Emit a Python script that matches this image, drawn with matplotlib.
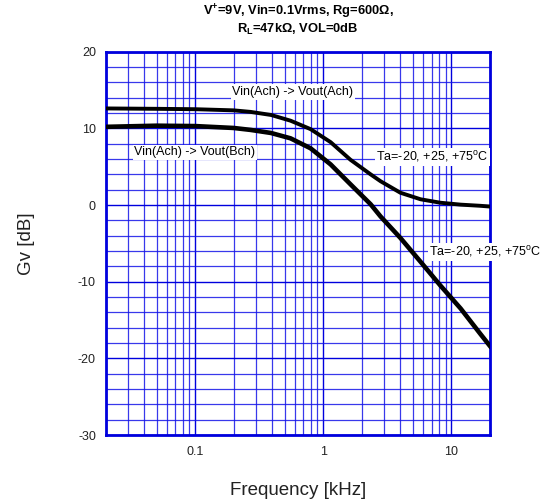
import matplotlib.pyplot as plt
from matplotlib.ticker import LogLocator, MultipleLocator, FixedLocator, FixedFormatter, NullFormatter

plt.rcParams["font.family"] = ["Liberation Sans", "DejaVu Sans"]
plt.rcParams["mathtext.fontset"] = "custom"
plt.rcParams["mathtext.rm"] = "Liberation Sans"
plt.rcParams["mathtext.bf"] = "Liberation Sans:bold"
plt.rcParams["axes.unicode_minus"] = False

# frequency in kHz, gain in dB
freq = [0.02, 0.05, 0.1, 0.2, 0.27, 0.39, 0.555, 0.795, 1.14, 1.63, 2.34, 2.8,
        4.0, 5.74, 8.2, 11.8, 16.8, 20]
gain_ach = [12.6, 12.55, 12.5, 12.35, 12.15, 11.75, 11.0, 9.9, 8.2, 5.9, 4.0, 3.1,
            1.6, 0.75, 0.3, 0.05, -0.1, -0.2]
gain_bch = [10.2, 10.35, 10.3, 10.05, 9.8, 9.4, 8.7, 7.4, 5.3, 2.7, 0.1, -1.5,
            -4.3, -7.4, -10.5, -13.5, -16.8, -18.4]

xticks = [0.1, 1, 10]
xtick_labels = ["0.1", "1", "10"]

fig = plt.figure(figsize=(5.46, 5.04), dpi=100)
ax = fig.add_axes([0.1936, 0.1369, 0.7038, 0.7605])

ax.plot(freq, gain_ach, color="black", linewidth=2.8, zorder=4, solid_joinstyle="round")
ax.plot(freq, gain_bch, color="black", linewidth=3.3, zorder=4, solid_joinstyle="round")

ax.set_xscale("log")
ax.set_xlim(0.02, 20)
ax.set_ylim(-30, 20)

ax.xaxis.set_major_locator(FixedLocator(xticks))
ax.xaxis.set_major_formatter(FixedFormatter(xtick_labels))
ax.xaxis.set_minor_locator(LogLocator(base=10, subs=range(2, 10)))
ax.xaxis.set_minor_formatter(NullFormatter())
ax.yaxis.set_major_locator(MultipleLocator(10))
ax.yaxis.set_minor_locator(MultipleLocator(2))

ax.grid(True, which="major", color="#0000dd", linewidth=1.0)
ax.grid(True, which="minor", color="#1515e8", linewidth=0.9, alpha=0.85)
ax.tick_params(which="both", length=0, labelsize=9, colors="#222222")
ax.tick_params(axis="x", pad=8)
ax.tick_params(axis="y", pad=7)

for s in ax.spines.values():
    s.set_color("#0000dd")
    s.set_linewidth(2)

ax.set_xlabel("Frequency [kHz]", fontsize=13.5, labelpad=17, color="#222222")
ax.set_ylabel("Gv [dB]", fontsize=13.5, labelpad=31, color="#222222")

box = dict(facecolor="white", edgecolor="none", pad=1.2)
ax.text(0.195, 14.75, "Vin(Ach) -> Vout(Ach)", fontsize=9, ha="left", va="center", bbox=box, zorder=5)
ax.text(0.0335, 6.9, "Vin(Ach) -> Vout(Bch)", fontsize=9, ha="left", va="center", bbox=box, zorder=5)
ax.text(2.6, 6.3, "Ta=-20, +25, +75$^\\mathrm{o}$C", fontsize=9, ha="left", va="center", bbox=box, zorder=5)
ax.text(6.7, -6.1, "Ta=-20, +25, +75$^\\mathrm{o}$C", fontsize=9, ha="left", va="center",
        bbox=box, zorder=5, clip_on=False)

fig.text(0.546, 0.976, "V$^\\mathbf{+}$=9V, Vin=0.1Vrms, Rg=600\u03a9,", fontsize=9.3,
         fontweight="bold", ha="center", va="center")
fig.text(0.546, 0.942, "R$_\\mathbf{L}$=47k\u03a9, VOL=0dB", fontsize=9.3,
         fontweight="bold", ha="center", va="center")

fig.savefig("out.png", dpi=100)
